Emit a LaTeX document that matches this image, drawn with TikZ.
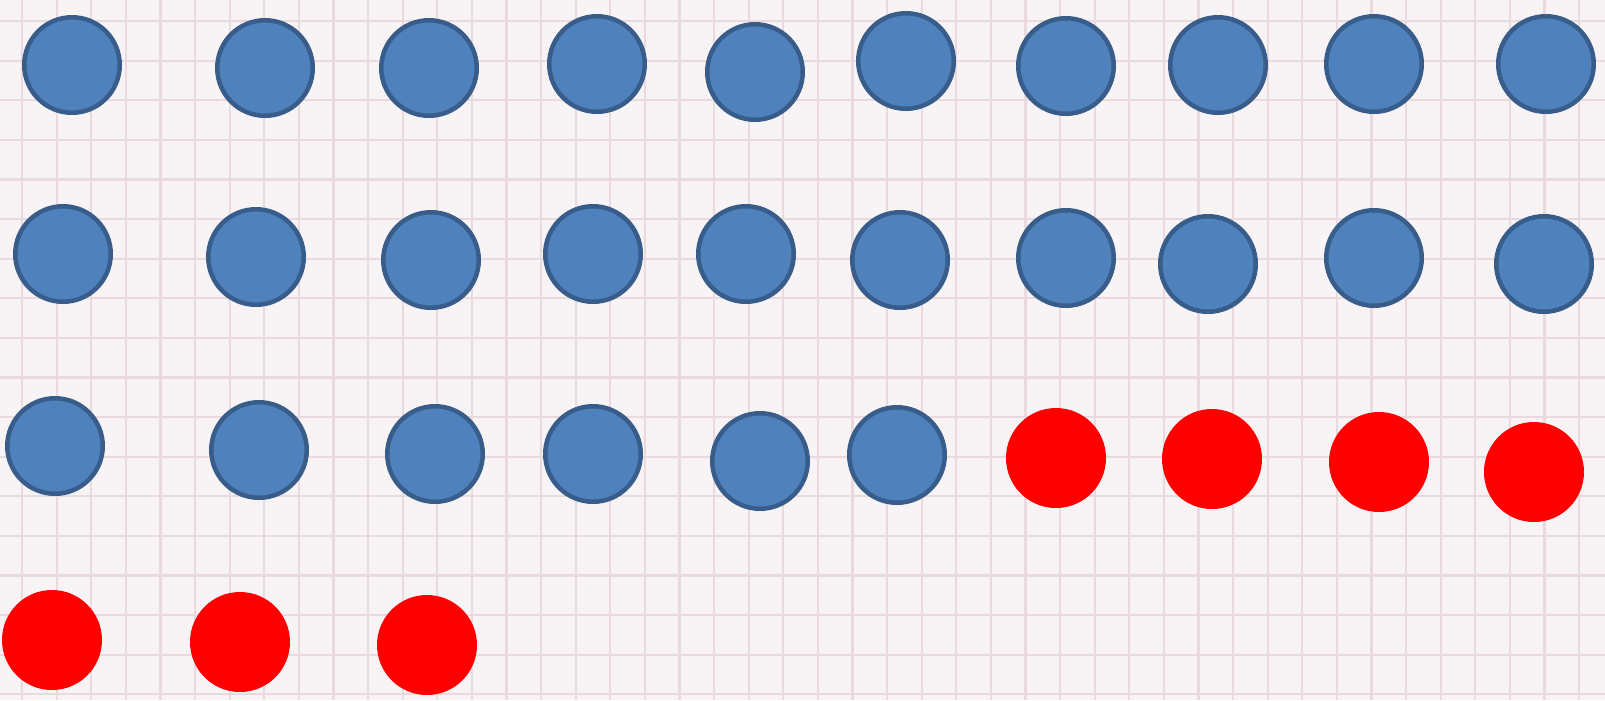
\documentclass[tikz,border=0pt]{standalone}
\usepackage{xcolor}
\usepackage{tikz}
\definecolor{PaperBg}{HTML}{F8F4F5}
\definecolor{PaperLine}{HTML}{EAD9DD}
\definecolor{DotBlue}{HTML}{4F81BD}
\definecolor{DotEdge}{HTML}{385D8A}
\definecolor{DotRed}{HTML}{FF0000}
\tikzset{
  bluedot/.style={circle,fill=DotBlue,draw=DotEdge,line width=0.45mm,minimum size=9.55mm,inner sep=0pt},
  reddot/.style={circle,fill=DotRed,minimum size=10mm,inner sep=0pt}
}

\begin{document}
\begin{tikzpicture}[x=0.1mm,y=-0.1mm]
		% paper
		\fill[PaperBg] (0,0) rectangle (1605,700);
		\useasboundingbox (0,0) rectangle (1605,700);
		\foreach \gx in {0,...,46}
			\draw[PaperLine,line width=0.22mm] ({22+\gx*34.6},0)--({22+\gx*34.6},700);
		\foreach \gy in {0,...,17}
			\draw[PaperLine,line width=0.22mm] (0,{21+\gy*39.6})--(1605,{21+\gy*39.6});
		% blue dots
		\foreach \bx/\by [count=\i] in {72/65,265/68,429/68,597/64,755/72,906/61,1066/66,1218/65,1374/64,1546/64,
			63/254,256/257,431/260,593/254,746/254,900/260,1066/258,1208/264,1374/258,1544/264,
			55/446,259/450,435/454,593/454,760/461,897/455}
			\node[bluedot] (b\i) at (\bx,\by) {};
		% red dots
		\foreach \rx/\ry [count=\i] in {1056/458,1212/459,1379/462,1534/472,52/640,240/642,427/645}
			\node[reddot] (r\i) at (\rx,\ry) {};
	\end{tikzpicture}
\end{document}
